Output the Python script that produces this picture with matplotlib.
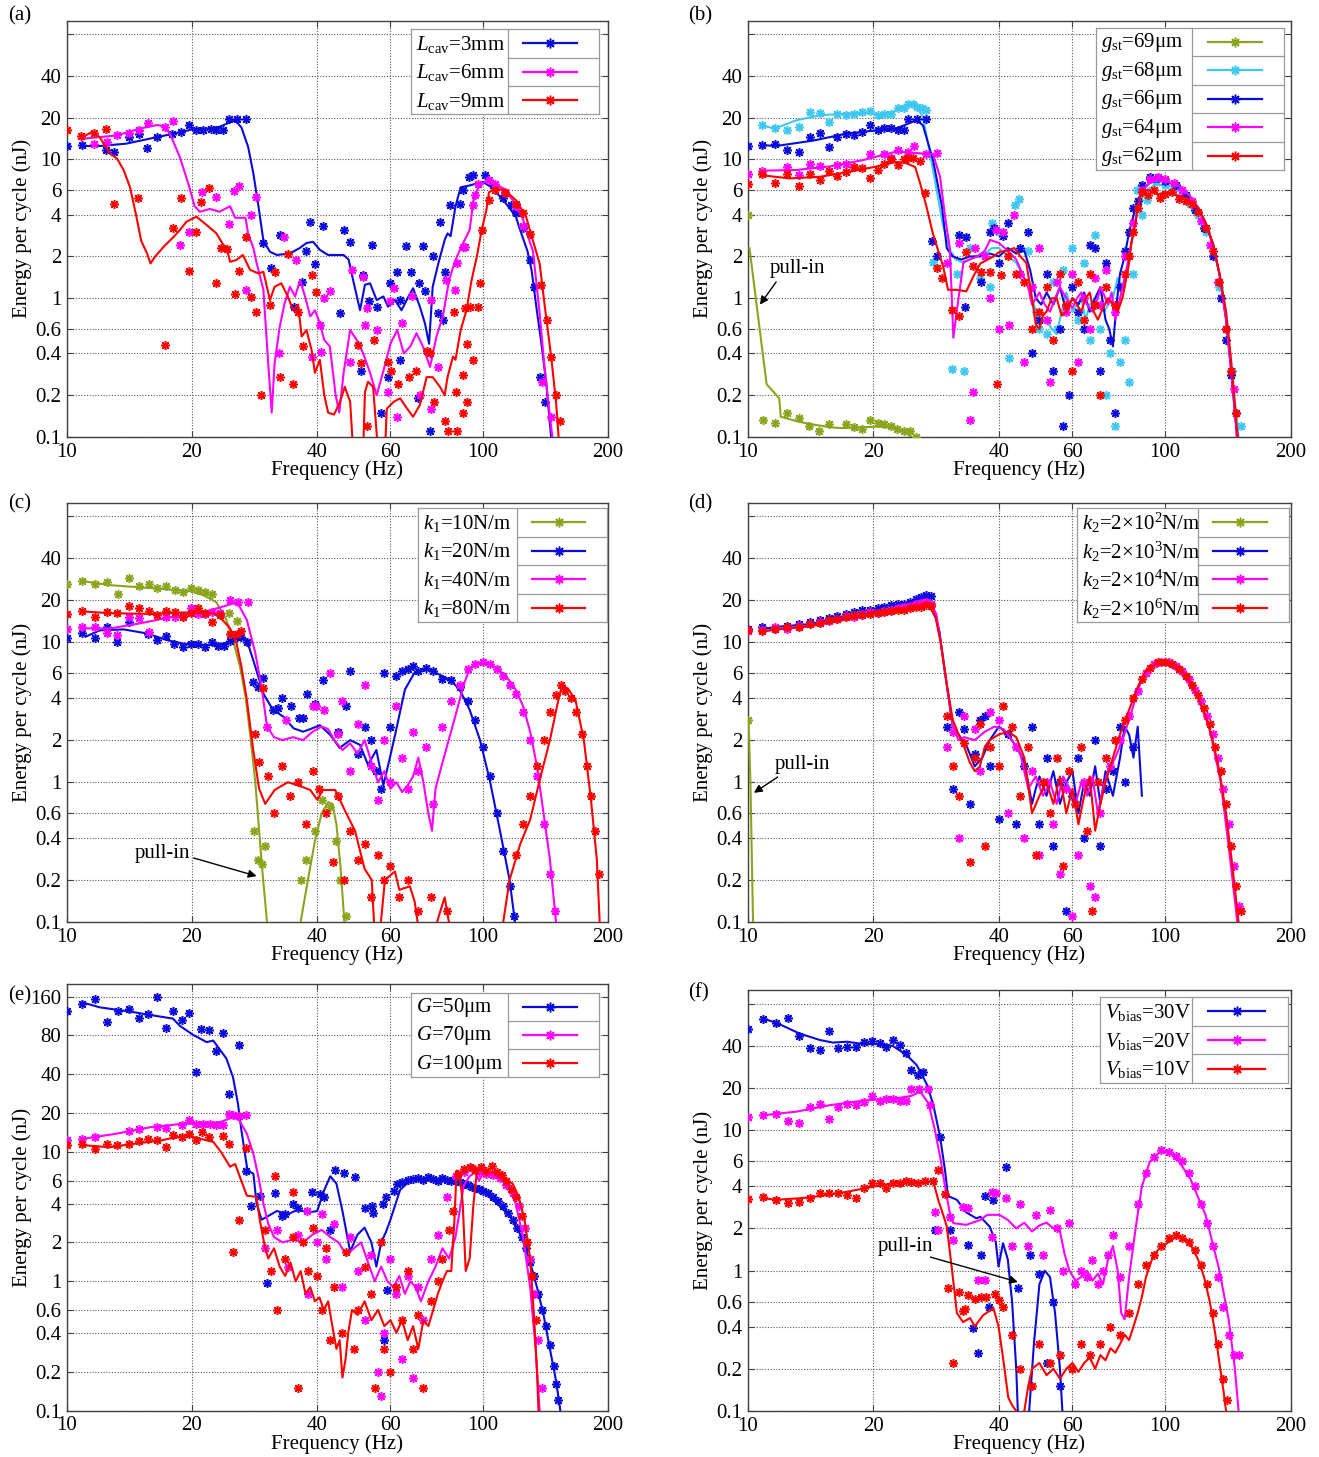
import matplotlib
matplotlib.use('Agg')
import matplotlib.pyplot as plt

plt.rcParams['font.family'] = ['Liberation Serif', 'DejaVu Serif']
plt.rcParams['mathtext.fontset'] = 'custom'
plt.rcParams['mathtext.rm'] = 'Liberation Serif'
plt.rcParams['mathtext.it'] = 'Liberation Serif:italic'
plt.rcParams['font.size'] = 15

BLUE = '#0a0adc'
PINK = '#ff00ff'
RED = '#ff0000'
CYAN = '#3cc8f0'
GREEN = '#8aa51c'

x_ticks = [10, 20, 40, 60, 100, 200]
y_ticks = [0.1, 0.2, 0.4, 0.6, 1, 2, 4, 6, 10, 20, 40, 80]
y_labels = ['0.1', '0.2', '0.4', '0.6', '1', '2', '4', '6', '10', '20', '40', '']
y_ticks_e = [0.1, 0.2, 0.4, 0.6, 1, 2, 4, 6, 10, 20, 40, 80, 160]
y_labels_e = ['0.1', '0.2', '0.4', '0.6', '1', '2', '4', '6', '10', '20', '40', '80', '160']

# ---------------- (a) cavity length ----------------
a_labels = [r'$L_{\mathrm{cav}}$=3mm', r'$L_{\mathrm{cav}}$=6mm', r'$L_{\mathrm{cav}}$=9mm']
a_blue_line = [(10.9,12.5),(12,12.5),(13.9,13),(16.5,14.5),(18,15.3),(20.1,16.5),(22.5,16.8),(23.3,17.2),(25.4,19.2),(26.3,17),(27.3,12.3),(28.1,7.9),(28.9,4.6),(29.7,2.6),(30.8,2.16),(32,2.05),(34.4,2.1),(36.3,2.3),(37.7,2.5),(39.1,2.55),(40.6,2.23),(42.5,2.05),(44,2.05),(46.3,2.05),(47.6,1.9),(48.8,1.35),(50.7,0.82),(52.1,1.25),(53.6,1.28),(55.6,0.97),(57.7,1.03),(59.2,0.87),(61.5,0.97),(63.8,0.82),(66.3,1.03),(68,1.18),(70.6,0.87),(72.6,0.66),(74.3,0.47),(75.8,1.21),(78.2,1.78),(81,2.63),(82.3,2.93),(83.7,2.8),(86,4.6),(88.5,6.3),(93,6.5),(100,6.9),(105,6.3),(112,5.1),(120,3.9),(123,3.1),(128,2.2),(131,1.6),(135,0.8),(138,0.5),(142,0.25),(146,0.1),(148,0.08)]
a_blue_stars = [(10,12.5),(10.9,12.7),(12.4,11.7),(13.0,11.3),(14.1,14.4),(14.9,15.3),(15.6,12.1),(16.5,14.5),(17.9,15.3),(18.8,15.7),(19.7,17.7),(20.5,16.3),(21.3,16.3),(22.2,16.7),(22.9,16.3),(23.7,16.3),(24.5,19.7),(25.6,19.7),(26.9,19.7),(29.7,2.5),(30.9,1.64),(32.5,2.85),(35.1,0.86),(36.7,1.3),(37.5,2.2),(38.5,3.56),(39.5,1.77),(41.3,3.3),(45.4,0.78),(46.3,3.1),(48,2.55),(51,0.3),(51.6,1.47),(53.4,0.95),(54.2,2.4),(55.6,0.87),(56.8,0.15),(59.2,0.27),(60,1.28),(62.3,1.55),(63.3,0.97),(63.3,0.36),(65.4,2.38),(67.2,1.55),(69.8,0.19),(70.3,1.28),(71.8,2.38),(72.6,1.12),(74.7,0.11),(75.8,2.0),(78.2,0.78),(78.9,3.56),(80.2,0.7),(81,1.55),(83.2,4.7),(88,4.8),(89.7,6.0),(92.8,7.5),(94.6,7.7),(101,7.7),(106,6.5),(112,5.25),(117,4.7),(120,4.1),(125,3.2),(130,1.9),(133,1.2),(137,0.27),(141,0.18)]
a_pink_line = [(10.9,14.1),(13.2,14.9),(15,16.7),(16.5,17.7),(17.1,17.4),(17.7,15.4),(18.7,10.4),(19.6,6.7),(20.3,4.6),(20.9,4.2),(22.1,4.4),(23.3,4.2),(24.7,4.6),(25.4,3.8),(26.9,3.8),(27.3,2.9),(28.1,2.3),(28.6,1.8),(29.7,1.15),(30.5,0.34),(31.1,0.15),(31.6,0.34),(32.5,0.62),(33.4,0.92),(34.4,1.21),(35.4,1.03),(36.4,1.35),(37.4,1.03),(38.5,0.74),(39.5,0.82),(40.6,0.66),(41.6,0.5),(42.9,0.45),(44.3,0.2),(45.2,0.15),(46.3,0.29),(48,0.59),(49.8,0.5),(51.6,0.4),(53.6,0.29),(55.6,0.2),(57.7,0.3),(60,0.47),(62.3,0.59),(64.6,0.4),(67,0.45),(69.3,0.56),(71.8,0.45),(74.7,0.32),(77.4,0.53),(80.2,0.74),(83,1.35),(86,1.89),(89.7,2.5),(93,3.1),(95,5.1),(97.6,6.3),(101,6.9),(105.5,6.8),(112,6.2),(118,5.1),(125,3.7),(130,2.5),(132,2.2),(137,0.78),(140.5,0.34),(145,0.14),(147,0.1),(149,0.08)]
a_pink_stars = [(11.6,13),(12.5,13.4),(13.2,14.9),(14.1,15.6),(14.9,16.3),(15.7,18.4),(17.2,17.2),(18,19),(18.7,2.4),(19.7,3),(21.2,5.8),(22.9,5.4),(24.5,3.4),(25.3,5.9),(26,6.4),(26.9,1.15),(27.7,4),(28.5,5.4),(32.3,0.4),(33.3,2.75),(35.6,1.9),(38.8,0.38),(40.6,0.64),(40.9,0.41),(41.6,1.0),(42.9,1.12),(48,0.35),(48.4,1.6),(51.6,1.43),(52.1,0.64),(52.6,0.85),(55.6,0.59),(59.2,0.21),(59.9,0.95),(61.2,1.18),(62.3,0.14),(63.8,0.66),(67.7,1.03),(70.6,0.2),(75.2,0.97),(75.2,0.16),(78.2,0.32),(81.5,1.35),(85.8,1.15),(86.8,1.8),(89.7,2.35),(90.6,2.35),(94.6,4.7),(96,5.5),(97.6,6.7),(103.5,7.1),(107,6.7),(113,5.8),(120,4.6),(125,3.3),(139,0.25),(146,0.14)]
a_red_line = [(11.1,14.9),(11.5,15.8),(12,14.5),(12.7,11),(13.2,10.2),(13.7,8.4),(14.2,6.3),(14.7,3.9),(15.1,2.6),(15.6,2.1),(15.9,1.78),(16.3,1.99),(17.1,2.35),(18.1,2.78),(18.7,3.1),(19.4,3.56),(20.5,3.87),(21.7,3.37),(22.9,2.93),(23.8,2.42),(24.2,2.35),(24.7,1.83),(25.6,1.89),(26.5,2.05),(27.6,1.6),(28.9,1.51),(29.7,1.55),(30.8,0.97),(31.6,1.21),(32.8,1.28),(34,1.03),(35,0.82),(36,0.9),(36.7,0.53),(37.7,0.59),(38.8,0.42),(39.5,0.29),(40.6,0.36),(41.6,0.2),(42.5,0.15),(43.9,0.145),(45.4,0.18),(46.6,0.23),(48,0.18),(48.8,0.08),(51.6,0.08),(52.1,0.21),(53,0.25),(54.5,0.23),(56,0.08),(58.2,0.08),(58.8,0.16),(61.2,0.18),(63.3,0.19),(65.8,0.16),(68,0.14),(70.6,0.17),(73.3,0.27),(75.8,0.27),(78.9,0.23),(81,0.2),(82.3,0.27),(84.8,0.38),(86,0.36),(88.5,0.59),(91.4,0.82),(94,1.35),(96.8,2.0),(99.4,3.1),(102,4.3),(103.5,5.8),(107,6.2),(113,6.0),(120,5.1),(127,3.9),(132,2.6),(137,1.78),(141,0.87),(146,0.38),(150,0.18),(153,0.08)]
a_red_stars = [(10,16.3),(10.8,14.7),(11.6,15.6),(12.4,16.7),(13,4.8),(14.8,5.25),(17.2,0.46),(18,3.2),(18.8,5.3),(19.7,1.58),(20.5,3),(21,4.95),(22,6.2),(22.9,1.28),(23.5,2.3),(24.3,2.27),(25.4,1.07),(26,1.57),(26.9,2.75),(27.7,1.02),(28.5,0.79),(29.3,0.2),(30.8,0.9),(31.6,1.55),(32.5,0.27),(34,2.08),(35,0.24),(36,0.8),(37,0.45),(38.8,1.46),(39.8,1.1),(50.2,0.46),(51,0.34),(52.6,0.12),(54.9,0.5),(59.2,0.35),(60.3,0.3),(62.4,0.24),(66.5,0.27),(69,0.3),(73.3,0.42),(74.7,0.4),(76.5,0.18),(81,0.13),(82.3,0.11),(85.2,0.8),(86,0.21),(86.8,0.11),(89.7,0.15),(89.7,0.28),(90.6,0.85),(91.4,0.47),(91.4,0.18),(93.3,0.87),(94.9,0.36),(97.6,0.87),(98.5,1.28),(99.4,3.1),(103.5,5.1),(107,6),(113,5.7),(120,4.8),(125,4.1),(130,2.9),(138,1.25),(143,0.7),(146,0.38),(150,0.2),(153,0.13)]

# ---------------- (b) stopper gap ----------------
b_labels = [r'$g_{\mathrm{st}}$=69μm', r'$g_{\mathrm{st}}$=68μm', r'$g_{\mathrm{st}}$=66μm', r'$g_{\mathrm{st}}$=64μm', r'$g_{\mathrm{st}}$=62μm']
b_green_line = [(10.1,2.29),(11.1,0.24),(11.9,0.19),(12.0,0.14),(13.1,0.13),(14.1,0.124),(16.0,0.117),(16.9,0.116),(20.7,0.119),(22.3,0.116),(23.6,0.11),(24.7,0.1),(25.5,0.09)]
b_green_stars = [(10,4.0),(10.9,0.133),(11.6,0.127),(12.4,0.15),(13.3,0.138),(14.0,0.121),(14.8,0.11),(15.7,0.125),(17.2,0.125),(18.0,0.119),(18.8,0.114),(19.6,0.133),(20.5,0.127),(21.2,0.124),(22,0.12),(22.8,0.115),(23.7,0.11),(24.5,0.11),(25.3,0.1)]
b_cyan_line = [(10.8,17.6),(11.6,16.7),(13.1,19.2),(14.9,20.8),(17.3,21.5),(19.6,21.6),(20.7,20.8),(22.3,22),(24,24.6),(25.4,24),(26.3,20.3),(27.8,8.4),(29.4,3.3),(30.4,2.29),(31.5,1.9),(33,1.8),(35,2.0),(37,2.1),(38.5,2.3),(40,2.3),(42,2.0),(44,1.8),(45.5,1.5),(47,1.2),(48.5,0.9),(50,0.65),(52,0.7),(53.5,0.6),(55,0.55),(56.5,0.8),(58,1.1),(60,0.8),(61.5,0.9),(63,1.0),(64.5,0.7),(66,0.9),(68,1.0),(70,1.2),(71.5,0.8),(73,0.9),(75,1.0),(77,1.4),(79,1.2),(81,1.6),(83,2.5),(86,4.5),(90,6.0),(95,6.6),(100,6.5),(105,6.3),(110,6.0),(115,5.3),(120,4.5),(125,3.5),(130,2.5),(135,1.5),(140,0.8),(144,0.35),(148,0.15),(150,0.1),(151,0.08)]
b_cyan_stars = [(10.8,17.6),(11.6,16.9),(12.4,16.3),(13.3,17.2),(14.1,21.9),(14.9,21.6),(15.7,18.6),(16.4,21.4),(17.2,20.8),(18,21.4),(18.8,21.9),(19.6,22.2),(20.5,20.8),(21.2,21.4),(22,21.2),(22.9,23.3),(23.7,23.3),(24.2,25.3),(24.9,25.3),(25.5,23.9),(26.1,23.3),(26.8,22.9),(27.8,1.83),(30.8,0.31),(31.7,1.5),(33,0.3),(34,2.3),(36,1.4),(38,1.2),(38.5,3.5),(40,3.0),(42.2,0.37),(43.7,4.7),(44.6,5.2),(47,2.2),(49,0.8),(50,0.6),(52,0.55),(54,1.3),(55,0.6),(57,1.6),(59.8,2.3),(62,0.7),(64,1.8),(66,0.5),(68,2.85),(70,0.6),(72,0.2),(74,0.4),(76,0.12),(78,0.35),(80,0.5),(82,0.25),(84,1.5),(85.6,6.0),(88,4.0),(90.5,5.1),(95,7.0),(100,6.5),(105,6.2),(110,5.5),(115,4.8),(120,4.0),(125,3.0),(130,2.0),(135,1.2),(140,0.6),(145,0.3),(152,0.12)]
b_blue_line = [(10.8,12.7),(11.7,12.5),(14.4,13.7),(17.3,15.4),(20.7,16.3),(22.7,16.7),(25.4,19.2),(26.3,17.6),(27.8,9.9),(29.2,4.6),(30,2.29),(31,2.0),(32.5,1.9),(34,2.0),(36,2.0),(38,2.1),(40,2.0),(42,2.3),(44,2.1),(46,2.2),(47.5,1.6),(49,1.0),(50.5,0.9),(52,1.1),(54,0.9),(56,1.2),(58,0.8),(60,1.0),(62,0.9),(64,1.1),(66,0.8),(68,1.0),(70,1.2),(72,0.7),(73.5,0.6),(75,0.45),(76.5,0.9),(78,1.5),(80,2.0),(82,3.0),(85,4.5),(88,6.0),(92,6.8),(96,7.0),(100,7.0),(105,6.6),(110,6.0),(115,5.2),(120,4.5),(125,3.5),(130,2.5),(135,1.5),(140,0.7),(144,0.3),(148,0.12),(149,0.09)]
b_blue_stars = [(10,12.5),(10.8,12.7),(11.6,12.9),(12.4,11.7),(13.3,11.3),(14.1,14.5),(14.9,15.6),(15.7,12.3),(16.4,14.5),(17.2,15.3),(18,15),(18.8,15.7),(19.6,17.6),(20.5,16.3),(21.2,16.8),(22,16.8),(22.9,16.3),(23.7,16.3),(24.2,19.7),(25.5,19.7),(26.8,19.7),(27.6,2.6),(28.4,2.0),(32,2.85),(33.2,0.87),(33.4,2.78),(36.3,1.32),(38,3.0),(39,3.2),(39.9,1.78),(41,2.8),(42,3.5),(45,2.3),(47,3.0),(48,0.4),(50,0.7),(52,1.5),(54,0.3),(56,0.6),(57,0.12),(59,0.2),(60,1.2),(62,0.8),(64,0.6),(66,2.4),(68,2.3),(70,0.3),(72,1.8),(74,0.5),(76,0.15),(78,1.2),(80,2.2),(82,3.0),(84,4.5),(86,5.0),(88,6.5),(92,7.5),(96,7.3),(100,7.0),(106,6.5),(112,5.5),(118,4.3),(124,3.2),(130,2.0),(136,1.0),(140,0.5),(144,0.28),(148,0.15)]
b_pink_line = [(10.8,8.3),(13.1,8.4),(15.7,8.9),(18.9,9.9),(22.7,11.4),(24.5,11.2),(27.8,10.9),(28.9,7.5),(29.7,3.9),(30.5,2.3),(31.1,0.52),(32,1.0),(32.9,1.83),(34,1.9),(35.5,2.0),(37,2.2),(38.1,2.63),(40,2.5),(42,2.2),(44,1.9),(45.5,1.5),(47,1.2),(48,0.9),(50,1.1),(51.5,0.9),(53,0.8),(54.5,1.0),(56,1.2),(58,1.0),(60,0.85),(61.5,1.0),(63,1.1),(65,0.9),(67,0.8),(69,1.0),(70,1.2),(72,1.0),(73,0.9),(74.5,1.1),(76,0.7),(78,1.0),(80,1.4),(82,2.0),(84,3.0),(86,4.5),(88,6.0),(93,7.0),(100,7.0),(105,6.7),(110,6.2),(115,5.4),(120,4.5),(125,3.5),(130,2.5),(135,1.5),(140,0.7),(144,0.3),(148,0.12),(149,0.09)]
b_pink_stars = [(10,7.8),(10.8,8.3),(12.4,8.85),(13.3,7.7),(14.1,9.2),(14.9,9.0),(16.4,9.1),(17.2,9.2),(18,8.85),(19.6,10.9),(21.2,10.9),(22,10.2),(22.9,11.7),(24.2,11.3),(25,12.5),(26.8,11.0),(28.4,11.2),(30,1.8),(32,2.5),(34.1,0.133),(34.7,0.21),(35,2.3),(37,2.0),(38,1.0),(39.3,3.1),(40,0.6),(41,3.0),(42.2,0.64),(43.5,4.0),(45,1.5),(46,0.35),(48,1.2),(50,2.3),(52,0.7),(53,0.25),(55,1.3),(58,0.8),(60,1.5),(62,0.35),(64,1.0),(66,0.6),(68,1.4),(70,0.9),(72,1.6),(76,0.8),(80,2.0),(84,3.5),(88,6.0),(92,7.2),(96,7.5),(100,7.2),(105,6.8),(110,6.0),(116,5.0),(122,3.6),(128,2.4),(134,1.3),(140,0.6),(146,0.22)]
b_red_line = [(10.8,7.7),(12.6,7.3),(14.9,7.5),(17.3,8.1),(20,8.8),(22.7,9.6),(24,9.4),(25.2,8.8),(25.9,6.7),(26.8,4.6),(27.8,2.9),(29.4,1.69),(30.2,1.15),(31.7,1.15),(33.4,1.12),(34.7,1.43),(36.1,1.78),(38.8,2.0),(40.1,2.16),(42,2.2),(43.5,2.3),(45,2.0),(46.5,1.8),(48,1.0),(49,0.65),(50,0.6),(51,0.75),(52,0.8),(53.5,1.0),(55,1.0),(56.5,0.75),(58,0.8),(60,1.0),(61.5,0.9),(63,0.8),(64.5,1.0),(66,1.1),(67.5,0.8),(69,0.7),(71,0.85),(73,1.0),(75,0.9),(77,0.8),(79,1.0),(80,1.2),(82,1.8),(83,2.5),(85,3.5),(86,4.5),(88,6.0),(90,6.0),(92,6.0),(96,5.6),(100,5.8),(105,5.6),(110,5.4),(115,5.0),(120,4.5),(125,3.5),(130,2.5),(135,1.5),(140,0.8),(144,0.35),(148,0.13),(150,0.09)]
b_red_stars = [(10,6.7),(10.8,7.8),(11.6,6.8),(12.4,7.8),(13.3,6.4),(14.1,7.8),(14.9,7.1),(15.7,8.3),(16.4,7.6),(17.2,8.1),(18,8.85),(18.8,8.7),(19.6,7.3),(20.5,8.4),(21.2,9.2),(22,10),(22.9,9.1),(23.7,10),(24.2,10.2),(24.9,10.2),(25.9,9.8),(26.6,5.75),(28.4,1.64),(29.2,1.4),(30.8,0.82),(32,0.75),(33.4,2.16),(34.7,1.7),(36.2,1.55),(38,1.55),(39.6,0.24),(40.5,1.47),(42,2.0),(44,1.5),(46,1.3),(48,0.6),(50,0.8),(52,1.2),(54,0.5),(56,1.5),(58,0.9),(60,0.3),(62,1.3),(64,0.7),(66,1.5),(68,0.9),(70,0.2),(72,1.2),(76,0.9),(80,1.5),(82,2.0),(84,3.0),(86,4.5),(88,5.8),(91,5.5),(94,6.0),(97,5.3),(100,5.6),(104,5.8),(108,5.2),(112,5.0),(116,4.8),(120,4.2),(125,3.2),(130,2.2),(135,1.3),(140,0.6),(144,0.3),(148,0.15)]

# ---------------- (c) spring k1 ----------------
c_labels = [r'$k_1$=10N/m', r'$k_1$=20N/m', r'$k_1$=40N/m', r'$k_1$=80N/m']
c_green_line = [(10.9,27.5),(12.7,25.7),(15,24.8),(17.4,24),(19.8,23.3),(21.3,21.8),(22.9,19.4),(24.2,14.5),(25.1,10.4),(26.1,6.7),(26.9,4.1),(27.6,2.2),(28.4,1.0),(29.5,0.24),(30.3,0.1),(31.5,0.05),(35,0.05),(36.5,0.1),(38,0.2),(39.5,0.38),(41,0.6),(42.5,0.72),(43.5,0.7),(44.5,0.5),(45.5,0.25),(46.5,0.1),(47.5,0.05)]
c_green_stars = [(10,26),(10.9,27.6),(11.7,26),(12.5,27.2),(13.3,22.4),(14.1,29),(14.9,25.3),(15.8,26),(16.5,24.4),(17.3,25.3),(18.2,23.9),(19,23),(19.9,24.6),(20.7,23.7),(21.5,23),(22.3,22.4),(24.5,16.3),(25.6,14.3),(27.1,10.1),(28.2,0.45),(28.8,0.28),(29.4,0.26),(30,0.35),(36.5,0.2),(37.5,0.28),(39.5,0.45),(41,0.75),(43,0.67),(44.5,0.38),(45.5,0.2),(47,0.11)]
c_blue_line = [(11.1,11),(12,12.2),(13.7,12.4),(15.6,11.6),(17.4,10.4),(19.1,9.8),(20.9,9.6),(22.9,9.6),(24.7,10.1),(26.1,11),(27.1,10.4),(28.4,6.7),(29.7,4.3),(31.3,3.3),(33.2,2.94),(35.1,2.43),(37,2.3),(38.5,2.4),(40.6,2.56),(43,2.18),(45.3,1.76),(48,2.0),(50.7,1.85),(53,1.33),(55.5,1.7),(57.7,0.95),(60,1.56),(61.6,2.2),(63,3.0),(65,4.6),(68.6,6.1),(72.6,6.5),(76.7,6.1),(83.5,5.4),(88,4.6),(93,3.3),(98.5,2.0),(104,1.03),(110,0.45),(116,0.2),(119.5,0.1),(121,0.08)]
c_blue_stars = [(10,10.7),(10.9,11.7),(11.7,10.7),(12.5,12.9),(13.2,10.1),(14.1,14.1),(15.7,11.5),(16.5,10.5),(17.3,11.1),(18.1,9.8),(19,9.3),(19.9,9.7),(20.7,9.7),(21.5,9.3),(22.3,10),(23.1,9.5),(23.9,9.5),(24.7,10.2),(25.6,11),(26.3,11),(27.1,10),(28.1,5.2),(28.9,4.8),(29.7,5.6),(31.3,3.3),(32.2,3.4),(33,4.0),(34.6,3.5),(36.1,2.86),(37,2.86),(37.8,4.25),(39.5,3.6),(41.3,5.4),(45,2.3),(47,3.5),(48,6.3),(50,1.6),(52,2.5),(54,2.0),(55.5,1.2),(57,0.9),(58,6.0),(60,2.5),(62,5.8),(64,6.2),(66,6.5),(68,6.8),(70,6.3),(73,6.6),(76,6.2),(80,5.5),(84,5.4),(88,4.8),(92,3.8),(96,2.8),(100,1.8),(104,1.1),(108,0.6),(112,0.32),(116,0.18),(119,0.11)]
c_pink_line = [(10.9,12.6),(12.7,12.6),(15,13.7),(18,15.3),(21.6,16.6),(25.1,19),(25.8,18.9),(27.1,14.5),(28.4,8.4),(29.4,4.8),(30.3,2.5),(31.5,2.1),(33,2.0),(35,2.1),(37,2.0),(39,2.3),(41,2.5),(42.5,2.4),(44,2.0),(46,1.7),(48,1.9),(50,1.6),(52,2.0),(54,1.4),(56,1.0),(58,1.2),(60,0.9),(62,1.0),(64,0.85),(66,0.95),(68,1.1),(70,1.5),(72,1.0),(74,0.6),(75.5,0.45),(77,0.9),(79,1.2),(82,1.8),(86,3.0),(90,5.0),(93,6.5),(96,7.0),(100,7.2),(108,6.6),(115,5.5),(120,4.6),(125,3.5),(130,2.3),(135,1.3),(140,0.6),(145,0.28),(150,0.1),(152,0.07)]
c_pink_stars = [(10,12.4),(10.9,12.8),(11.7,13),(12.5,11.6),(13.2,11.3),(14.1,15.3),(14.9,15),(15.8,11.9),(17.3,15.3),(18.2,15.1),(19,15.5),(19.9,17.7),(20.7,15.9),(21.5,15.9),(22.3,16.4),(23.3,16.2),(24.7,20),(25.8,19.5),(27.3,19.5),(30.3,2.5),(33.7,2.8),(39,3.5),(39.8,3.5),(41.6,3.3),(43,6.0),(45,2.2),(46,3.8),(48,1.2),(50,2.6),(52,5.0),(54,1.3),(56,0.75),(58,2.0),(60,1.0),(62,3.5),(64,1.5),(66,0.9),(68,2.3),(70,1.2),(73,1.8),(76,0.7),(80,2.5),(84,3.8),(88,5.0),(92,6.5),(96,7.0),(100,7.2),(104,7.0),(108,6.5),(112,5.8),(116,5.0),(120,4.3),(125,3.2),(130,2.0),(135,1.1),(140,0.5),(145,0.22),(149,0.12)]
c_red_line = [(10.9,16.7),(12.7,16.2),(15.9,16),(19.1,16.4),(22.5,16.2),(23.3,15.3),(24.7,12.6),(25.6,9.8),(26.3,6.7),(27.1,3.9),(28,1.8),(29,0.9),(30,0.7),(31.6,0.88),(34,1.0),(36,0.95),(38.5,0.88),(40,0.75),(41.3,0.88),(44.2,0.88),(46.6,0.63),(49.3,0.45),(52,0.24),(54.1,0.2),(55,0.08),(56.5,0.08),(58.2,0.2),(61.5,0.23),(63,0.17),(66.8,0.18),(68.6,0.14),(70.5,0.08),(75,0.07),(79.1,0.12),(81,0.15),(84,0.08),(90,0.05),(108,0.05),(112,0.1),(116,0.2),(123,0.36),(130,0.54),(137,1.03),(145,2),(152,3.9),(155,4.9),(160,4.7),(167,3.9),(175,2),(182,0.75),(188,0.28),(191,0.1),(193,0.07)]
c_red_stars = [(10,15.9),(10.9,16.8),(11.7,15.3),(12.5,16.6),(13.2,16.3),(14.1,18.2),(14.9,17.5),(15.8,16.7),(16.5,15.7),(17.3,16.8),(18.2,16.4),(19,15.3),(19.9,16.3),(20.7,17.5),(21.5,16.3),(22.3,14.1),(23.3,15.7),(24.7,11.5),(25.6,11.5),(26.3,12.1),(29.7,4.7),(28.4,2.2),(29,1.4),(30.5,1.1),(31.5,0.6),(33,1.3),(34.5,0.8),(36,1.0),(37.5,0.5),(39,1.2),(40.5,0.9),(42,0.6),(43.7,0.27),(45,0.8),(46.5,0.2),(48,0.45),(50,0.28),(52,0.36),(54,0.15),(56,0.3),(58,0.2),(60,0.25),(63,0.15),(66,0.2),(70,0.12),(75,0.15),(82,0.12),(120,0.3),(125,0.5),(130,0.8),(135,1.3),(140,2.0),(145,3.2),(150,4.2),(154,5.0),(158,4.5),(163,4.0),(168,3.2),(173,2.2),(178,1.3),(182,0.8),(186,0.45),(190,0.22)]

# ---------------- (d) spring k2 ----------------
d_labels = [r'$k_2$=2×10$^2$N/m', r'$k_2$=2×10$^3$N/m', r'$k_2$=2×10$^4$N/m', r'$k_2$=2×10$^6$N/m']
d_green_line = [(10.05,2.8),(10.15,1.0),(10.3,0.1),(10.4,0.05)]
d_green_stars = [(10.02,2.8)]
d_blue_line = [(10.8,12.5),(12,13),(14,13.5),(16,14.5),(18,15.5),(20,16.5),(22,17.5),(24,18.5),(26,20.5),(27,21),(27.8,18),(28.8,12),(29.5,7),(30.3,4),(31,2.5),(32,2.2),(33.5,1.8),(35,1.3),(36.5,1.5),(38,2.0),(40,2.5),(42,2.2),(44,1.8),(46,1.4),(48,0.7),(49,0.9),(50,1.1),(52,0.8),(54,1.2),(56,0.7),(58,1.0),(60,1.2),(62,0.6),(64,1.0),(66,0.8),(68,1.3),(70,0.7),(72,1.2),(75,0.8),(78,1.5),(80,2.5),(82,2.2),(84,1.5),(86,2.5),(88,0.8)]
d_blue_stars = [(10,12.5),(10.8,12.8),(11.6,12.5),(12.4,13.2),(13.3,13.5),(14.1,14),(14.9,14.5),(15.7,15),(16.4,15.5),(17.2,16),(18,16.5),(18.8,17),(19.6,17.2),(20.5,17.5),(21.2,17.8),(22,18.5),(22.9,18.8),(23.7,19),(24.5,19.5),(25.3,20.5),(26,21),(26.8,22),(27.5,21.5),(30,2.5),(31,0.9),(32,3.2),(33,2.4),(34,0.7),(35,1.6),(36,2.8),(37,3.0),(38,1.3),(40,0.55),(42,2.2),(44,0.5),(46,1.3),(48,2.5),(50,0.5),(52,1.5),(54,0.35),(56,1.0),(58,0.12),(60,0.8),(62,1.5),(64,0.4),(66,1.0),(68,2.0),(70,0.35),(72,0.9),(75,1.2),(78,2.5),(80,1.0),(84,1.8)]
d_pink_line = [(10.8,12),(12,12.5),(14,13.2),(16,14),(18,15),(20,16),(22,17),(24,18),(26,19),(27.3,19.5),(28.3,16),(29,10),(30,5),(31,2.5),(32,2.0),(33,2.1),(35,2.0),(37,2.3),(39,2.5),(41,2.4),(43,2.0),(45,1.6),(47,0.9),(49,1.1),(51,0.8),(53,1.0),(55,0.7),(57,1.1),(59,0.9),(61,0.7),(63,1.0),(65,0.8),(67,1.1),(69,0.6),(71,0.9),(73,1.2),(76,1.5),(79,2.0),(82,2.8),(85,4.0),(88,5.5),(92,6.8),(96,7.2),(100,7.0),(106,6.5),(112,5.5),(120,4.0),(128,2.4),(136,1.0),(142,0.35),(148,0.12),(150,0.08)]
d_pink_stars = [(10,12),(10.8,12.3),(11.6,12.8),(12.4,12.5),(13.3,13.2),(14.1,13.5),(14.9,14),(15.7,14.2),(16.4,14.8),(17.2,15.5),(18,15.2),(18.8,16),(19.6,16.5),(20.5,16.2),(21.2,16.8),(22,17.2),(22.9,17.5),(23.7,17.8),(24.5,18.3),(25.3,18.8),(26,19.2),(26.8,19.5),(27.5,19),(30,1.8),(31,2.3),(32,0.4),(33,3.0),(35,2.4),(36,1.2),(38,3.2),(40,2.8),(42,0.6),(44,1.8),(46,0.4),(48,1.2),(50,0.3),(52,1.0),(54,0.5),(56,0.22),(58,0.9),(60,0.11),(62,0.3),(64,1.0),(66,0.18),(68,0.15),(70,0.6),(74,1.3),(78,2.0),(82,3.0),(86,4.5),(90,6.0),(94,7.0),(98,7.3),(102,7.2),(106,6.8),(110,6.2),(114,5.5),(118,4.6),(122,3.8),(126,3.0),(130,2.2),(134,1.5),(138,0.9),(142,0.5),(146,0.25),(150,0.13)]
d_red_line = [(10.8,12),(12,12.5),(14,13),(16,14),(18,15),(20,16),(22,17),(24,17.5),(26,18),(27.3,18),(28.2,15),(29,10),(30,5),(31,2.8),(32,2.2),(33,1.8),(34,1.4),(35,1.2),(36,1.3),(37,1.8),(38,2.0),(40,2.2),(42,2.3),(44,2.1),(46,1.5),(48,0.6),(50,0.8),(52,1.0),(54,0.7),(56,1.1),(58,0.6),(60,0.9),(62,0.5),(64,0.8),(66,1.1),(68,0.45),(70,0.7),(72,1.0),(75,1.5),(78,2.2),(82,3.3),(86,4.8),(90,6.3),(95,7.0),(100,7.2),(105,6.8),(110,6.2),(115,5.2),(120,4.0),(125,3.0),(130,2.0),(135,1.2),(140,0.6),(145,0.25),(150,0.1),(152,0.07)]
d_red_stars = [(10,12.3),(10.8,12),(11.6,12.4),(12.4,12.8),(13.3,12.9),(14.1,13.6),(14.9,13.8),(15.7,14.5),(16.4,14.6),(17.2,15.2),(18,15.6),(18.8,15.8),(19.6,16),(20.5,16.3),(21.2,16.4),(22,16.8),(22.9,17),(23.7,17.2),(24.5,17.5),(25.3,17.8),(26,18),(26.8,18.5),(27.5,18.2),(30,3.0),(31,1.3),(32,0.8),(33,1.9),(34,0.27),(35,1.5),(36,2.6),(37,0.35),(38,1.8),(40,1.3),(41,3.5),(43,2.5),(45,0.8),(47,1.8),(49,0.3),(51,1.0),(53,0.6),(55,1.5),(57,0.25),(59,1.2),(61,0.7),(63,1.8),(65,0.45),(67,0.12),(69,1.0),(72,1.5),(76,2.0),(80,2.8),(84,4.0),(88,5.5),(92,6.6),(96,7.2),(100,7.3),(104,7.0),(108,6.5),(112,5.8),(116,5.0),(120,4.2),(124,3.4),(128,2.6),(132,1.8),(136,1.2),(140,0.7),(144,0.35),(148,0.18),(152,0.12)]

# ---------------- (e) gap G ----------------
e_labels = [r'$G$=50μm', r'$G$=70μm', r'$G$=100μm']
e_blue_line = [(11,143),(12,132),(14.5,121),(15.9,115),(18,108),(18.7,95),(20.1,81),(21.7,71),(22.5,73),(24.2,53),(25.1,38),(25.8,23.7),(26.3,14.7),(26.9,9.1),(27.2,7.2),(28.1,6.8),(28.6,4.0),(29.4,3.0),(30.5,3.2),(32,3.5),(34,3.3),(36,3.6),(38,3.4),(40,3.5),(41.5,5.0),(43,6.5),(44.5,5.7),(46,3.5),(48,1.7),(50,2.3),(52,2.6),(54,2.0),(55.5,1.3),(57,2.0),(58.5,2.4),(60,3.0),(63.3,5.1),(66.8,6.0),(70,6.1),(74.7,6.2),(80,6.1),(86,6.0),(93,5.5),(100,5.2),(104,4.5),(112,3.6),(118,3.0),(124,2.2),(130,1.4),(135,0.9),(140,0.55),(145,0.3),(150,0.17),(153,0.11),(155,0.08)]
e_blue_stars = [(10,123),(10.9,139),(11.7,152),(12.5,101),(13.3,124),(14.1,127),(14.9,109),(15.7,118),(16.5,158),(17.3,92),(18,124),(18.9,105),(19.7,119),(20.5,42),(21,89),(22,88),(22.9,61),(23.8,83),(24.5,28),(26,68),(27,7.2),(27.8,3.8),(29.1,4.6),(30.3,0.97),(31.6,4.8),(33,3.2),(33.4,3.3),(35,4.0),(36,3.7),(38.8,4.9),(40.6,4.7),(41.6,4.5),(43,2.5),(44.1,7.3),(46.3,6.9),(49.2,6.4),(52,3.7),(54.2,3.8),(54.4,3.4),(57.7,4.0),(58,0.35),(58.6,4.5),(59,0.85),(61.2,5.0),(62.3,5.7),(63.8,5.9),(66,6.1),(68,6.2),(70,6.3),(72,6.1),(74,6.4),(76,6.2),(78,6.0),(80,6.3),(82,6.1),(84,6.0),(86,6.2),(88,5.9),(90,5.7),(92,5.6),(94,5.4),(96,5.3),(98,5.2),(100,5.0),(103,4.8),(106,4.5),(109,4.2),(112,3.8),(115,3.4),(118,3.0),(121,2.6),(124,2.2),(127,1.8),(130,1.4),(133,1.1),(136,0.8),(139,0.6),(142,0.45),(145,0.32),(148,0.22),(150,0.16),(152,0.12)]
e_pink_line = [(11,12.7),(13.2,13.9),(15.9,15.6),(19.1,16.6),(21.7,16.6),(23.4,17.1),(25.1,18.6),(26,17.6),(27.1,13.9),(28.1,9.7),(28.9,6.4),(29.7,4.0),(30.5,2.8),(31.5,2.2),(33,2.0),(35,2.1),(37,2.0),(39,2.3),(41,2.5),(43,2.2),(45,2.0),(47,1.6),(49,1.8),(51,2.0),(53,1.4),(55,1.0),(57,1.3),(59,1.0),(61,0.9),(63,1.1),(65,0.8),(67,1.0),(69,0.9),(71,0.7),(74,1.0),(77,1.3),(80,1.8),(83,1.5),(86,2.2),(88,3.5),(90,5.5),(93,6.5),(96,7.0),(98,6.0),(100,6.8),(104,6.8),(108,6.5),(112,6.0),(116,5.2),(120,4.0),(125,2.2),(130,0.9),(134,0.3),(137,0.1),(138,0.07)]
e_pink_stars = [(10,12.5),(10.9,12.7),(11.7,13.2),(14.1,14.5),(14.9,15.2),(16.5,15.6),(17.3,15.4),(18.9,16.1),(19.7,17.6),(20.5,16.4),(21.3,16.4),(22.1,16.4),(22.9,16.1),(23.7,16.3),(24.5,19.6),(25.1,19.2),(26,19),(27,19.2),(30,1.8),(32,2.5),(34,1.3),(36,2.3),(37.9,3.5),(38,0.8),(40,2.0),(41,3.3),(42,1.5),(44,2.8),(46,0.9),(48,2.2),(50,1.2),(52,0.5),(54,1.6),(56,0.2),(57,0.13),(58,0.4),(60,1.5),(62,0.8),(64,0.25),(66,1.1),(68,0.18),(70,0.9),(72,0.5),(75,1.5),(78,2.3),(82,4.5),(86,6.5),(90,7.0),(94,7.5),(98,7.0),(102,6.8),(106,6.6),(110,6.3),(114,5.6),(118,4.8),(122,3.8),(126,2.6),(130,1.5),(133,0.8),(136,0.35),(139,0.15)]
e_red_line = [(11,11.3),(12.7,10.9),(14.5,11.6),(16.8,12.3),(19.4,13.5),(20.9,12.7),(22.5,12.0),(23.5,10.0),(24.7,7.7),(25.4,8.1),(26,6.6),(27.1,4.6),(28.6,4.5),(29.1,3.0),(29.8,2.0),(30.5,1.5),(31.5,1.8),(32.5,1.3),(33.5,1.1),(34.5,1.4),(35.5,1.0),(36.5,1.2),(37.5,0.8),(38.5,0.9),(39.5,0.7),(40.5,0.75),(41.5,0.6),(42.5,0.7),(43.5,0.45),(44.5,0.3),(45.3,0.35),(46,0.18),(46.8,0.25),(47.5,0.4),(48.5,0.6),(50,0.55),(52,0.7),(54,0.5),(56,0.6),(58,0.45),(60,0.5),(62,0.4),(64,0.5),(66,0.35),(68,0.45),(70,0.3),(72,0.5),(74,0.45),(76,0.6),(78,0.8),(80,1.0),(82,1.2),(84,1.2),(85.5,3.0),(86.5,7.2),(88,6.8),(89.5,4.0),(91,1.2),(93,1.5),(95,4.0),(97,7.5),(100,7.3),(105,7.0),(110,6.8),(115,6.0),(118,5.7),(122,4.5),(126,3.0),(130,1.5),(133,0.5),(135,0.2),(136.5,0.08)]
e_red_stars = [(10,11.3),(10.9,11.5),(11.7,10.6),(12.5,11.5),(13.2,11.4),(14.1,11.5),(14.9,12.2),(15.7,12.7),(16.5,12.5),(17.3,10.9),(18,13.6),(18.9,13.1),(19.7,13.9),(20.5,12.5),(21.2,14.3),(22,13.1),(23.7,13.3),(24.5,11.5),(27,10.8),(26,3.0),(25.1,1.7),(31.7,6.5),(35,4.9),(30,2.5),(31,1.2),(32,0.6),(33.5,1.5),(35,2.2),(36,0.15),(37,2.0),(38,1.2),(39,2.6),(40,1.1),(41,0.6),(42,1.8),(43,0.35),(44,0.9),(46,0.4),(47,1.7),(49,0.3),(50,0.6),(52,1.3),(54,0.8),(55,0.15),(57,2.0),(58,0.3),(60,0.2),(62,0.9),(64,0.5),(66,1.2),(68,0.3),(70,0.55),(72,0.15),(75,0.7),(78,1.0),(80,1.5),(83,2.5),(85,3.5),(87,6.8),(90,7.4),(93,7.6),(96,7.3),(99,7.6),(102,7.2),(105,7.8),(108,7.0),(111,6.6),(114,6.0),(117,5.2),(120,4.5),(124,3.2),(128,2.0),(131,1.1),(134,0.5)]

# ---------------- (f) bias voltage ----------------
f_labels = [r'$V_{\mathrm{bias}}$=30V', r'$V_{\mathrm{bias}}$=20V', r'$V_{\mathrm{bias}}$=10V']
f_blue_line = [(10.9,62.4),(11.7,58.5),(13.3,49),(14.9,44),(16,42.2),(17.3,42.8),(18.9,41.2),(20.8,41.2),(22.3,39.8),(24,34.5),(25.4,29.2),(26.8,21.6),(27.8,15.5),(28.9,9.0),(29.7,5.2),(30.2,3.4),(31.7,3.2),(33.4,2.6),(35.3,2.36),(36.1,2.42),(38,2.06),(39.3,1.6),(39.9,1.07),(40.9,1.57),(42,1.2),(43,0.6),(44,0.2),(44.5,0.08),(46,0.05),(47,0.08),(48.5,0.3),(50,0.8),(51.5,1.0),(53,0.9),(54.5,0.5),(56,0.2),(57,0.08)]
f_blue_stars = [(10,52.7),(10.9,62.4),(11.7,58.5),(12.5,62.8),(13.3,47),(14.1,38.3),(14.9,37.2),(15.7,51),(16.5,38.7),(17.3,39.4),(18.2,39),(19,42.9),(19.8,43.3),(20.7,41.8),(21.5,39),(22.3,44.2),(23.2,40.5),(23.9,35.4),(24.6,26.9),(25.6,24.6),(26.3,26.1),(28.9,8.9),(28.1,1.95),(30.5,1.95),(33.7,1.52),(34.7,0.39),(35.6,0.26),(36.3,1.29),(37,3.4),(37.8,0.55),(38.8,3.2),(41.6,5.5),(44.5,0.75),(47.5,1.3),(50,0.95),(52,0.22),(54,0.6),(56,0.15)]
f_pink_line = [(10.9,12.8),(13.1,13.6),(15.7,15.1),(18.9,16.3),(22.6,16.9),(24.7,17.6),(25.9,18.9),(27.1,15.6),(28.1,10),(28.9,6.5),(29.7,4),(30.5,2.56),(31.1,2.18),(33.4,2.12),(36.1,2.3),(37.5,2.5),(40.1,2.5),(42,2.3),(44,2.0),(46,2.2),(48,1.9),(50,2.1),(52,2.2),(54,2.0),(56,1.9),(57.5,1.3),(59,1.0),(61,0.85),(63,0.9),(65,1.0),(67,0.85),(69,0.95),(71,0.8),(73,1.2),(75,1.5),(77,1.0),(78.5,0.5),(80,0.45),(82,0.9),(85,2.0),(88,4.0),(92,6.0),(97,7.0),(102,7.0),(108,6.0),(115,4.5),(125,2.5),(135,1.0),(142,0.45),(147,0.2),(150,0.1),(151,0.07)]
f_pink_stars = [(10,12.5),(10.9,12.8),(11.7,13.1),(12.5,11.7),(13.3,11.3),(14.1,14.6),(14.9,15.4),(15.7,12.0),(16.5,14.7),(17.3,15.3),(18.2,15.1),(19,16),(19.8,17.7),(20.7,16.2),(21.5,16.7),(22.3,16.7),(23.2,16.2),(23.9,16.2),(24.6,19.8),(25.7,19.8),(27.1,19.8),(27.4,15.2),(28.1,2.6),(28.6,1.95),(30.5,2.4),(31.1,1.65),(32.8,2.85),(33.7,2.8),(35.6,0.86),(37,0.86),(38.4,3.65),(38.4,1.75),(39.4,3.55),(41.6,3.3),(43,1.5),(45,3.0),(47,1.5),(49,2.5),(51,1.3),(53,2.7),(55,2.0),(57,1.0),(59,2.2),(61,0.8),(63,1.0),(65,0.9),(67,1.2),(69,0.8),(71,1.0),(73,1.3),(75,1.8),(78,0.9),(82,1.5),(86,3.0),(90,5.0),(94,6.5),(98,7.2),(102,7.0),(106,6.6),(110,6.0),(114,5.0),(118,4.0),(122,3.0),(126,2.2),(130,1.5),(134,0.9),(138,0.55),(142,0.35),(146,0.25),(150,0.25)]
f_red_line = [(10.9,3.28),(11.7,3.2),(13.3,3.28),(14.9,3.4),(17.3,3.65),(20,3.97),(22.7,4.24),(24.9,4.3),(26.8,4.24),(27.8,4.4),(28.6,3.2),(29.4,2.5),(30,2.06),(30.8,1.07),(31.4,0.65),(31.7,0.5),(32.8,0.43),(34.1,0.46),(35,0.4),(36.6,0.48),(38.8,0.54),(39.9,0.4),(40.9,0.24),(42.1,0.125),(43,0.11),(44,0.1),(45,0.08),(46,0.1),(47,0.15),(48,0.2),(50,0.22),(52,0.18),(54,0.2),(56,0.17),(58,0.2),(60,0.22),(62,0.19),(64,0.22),(66,0.24),(68,0.2),(70,0.25),(72,0.23),(74,0.28),(76,0.26),(78,0.3),(80,0.35),(82,0.32),(84,0.4),(86,0.5),(88,0.65),(90,0.9),(93,1.2),(96,1.4),(99,1.5),(102,1.6),(105,1.7),(108,1.75),(111,1.7),(114,1.6),(117,1.4),(120,1.2),(124,0.9),(128,0.6),(132,0.35),(135,0.22),(138,0.14),(140,0.1),(142,0.08)]
f_red_stars = [(10,3.24),(10.9,3.33),(11.7,3.18),(12.5,3.02),(13.3,3.07),(14.1,3.31),(14.9,3.56),(15.7,3.56),(16.5,3.6),(17.3,3.46),(18.2,3.31),(19,3.86),(19.8,4.19),(20.7,4.19),(21.5,3.9),(22.3,4.19),(23.2,4.19),(23.9,4.38),(24.6,4.3),(25.6,4.19),(26.6,4.38),(27.8,4.38),(28.6,5.2),(29.7,3.5),(30.2,0.75),(31.1,0.22),(32,0.7),(32.8,0.52),(33.1,0.53),(33.7,0.67),(35,0.63),(36.3,0.65),(37.3,0.65),(39.1,0.68),(40.1,0.62),(41,0.55),(43,0.35),(45,0.2),(48,0.15),(50,0.3),(53,0.22),(56,0.25),(60,0.2),(63,0.3),(66,0.25),(70,0.3),(74,0.4),(78,0.35),(82,0.5),(86,0.8),(90,1.1),(94,1.3),(98,1.5),(102,1.7),(106,1.8),(110,1.7),(114,1.6),(118,1.4),(122,1.1),(126,0.8),(130,0.5),(134,0.3),(138,0.17),(141,0.12)]

# ---------------- drawing ----------------
W, H = 1319, 1457
fig = plt.figure(figsize=(W / 100, H / 100), dpi=100)
STAR = (8, 2, 0)


def px_rect(x0, y0, x1, y1):
    return [x0 / W, 1 - y1 / H, (x1 - x0) / W, (y1 - y0) / H]


def panel(rect, series, ymax, yt, yl, tag, tag_xy):
    ax = fig.add_axes(px_rect(*rect))
    for line, stars, col in series:
        f, e = zip(*line)
        ax.plot(f, e, color=col, lw=1.5, zorder=3)
        sf, se = zip(*stars)
        ax.plot(sf, se, ls='none', marker=STAR, ms=6.5, mew=1.1, color=col, zorder=3)
    ax.set_xscale('log')
    ax.set_yscale('log')
    ax.set_xlim(10, 200)
    ax.set_ylim(0.1, ymax)
    ax.set_xticks(x_ticks)
    ax.set_xticklabels([str(t) for t in x_ticks])
    ax.set_yticks(yt)
    ax.set_yticklabels(yl)
    ax.minorticks_off()
    ax.grid(True, which='major', ls=(0, (1, 1.5)), color='0.35', lw=0.8)
    ax.tick_params(direction='in', top=True, right=True, length=4.5, width=0.8,
                   color='0.25', labelsize=15, pad=4)
    for s in ax.spines.values():
        s.set_color('0.25')
        s.set_linewidth(1.0)
    ax.set_xlabel('Frequency (Hz)', fontsize=15)
    ax.xaxis.set_label_coords(0.5, -0.056)
    ax.set_ylabel('Energy per cycle (nJ)', fontsize=15)
    ax.yaxis.set_label_coords(-0.064, 0.5)
    fig.text(tag_xy[0] / W, 1 - tag_xy[1] / H, tag, fontsize=15, ha='left', va='center')
    return ax


def legend_box(x0, y0, x1, y1, xdiv, labels, colors):
    lax = fig.add_axes(px_rect(x0, y0, x1, y1))
    lax.set_xlim(x0, x1)
    lax.set_ylim(y1, y0)
    lax.set_xticks([])
    lax.set_yticks([])
    lax.set_facecolor('white')
    for s in lax.spines.values():
        s.set_color('0.6')
        s.set_linewidth(0.9)
    rh = (y1 - y0) / len(labels)
    cw = x1 - xdiv
    lax.plot([xdiv, xdiv], [y0, y1], color='0.6', lw=0.9)
    for i, (lab, col) in enumerate(zip(labels, colors)):
        yc = y0 + rh * (i + 0.5)
        lax.text(x0 + 5, yc + 1, lab, fontsize=15, ha='left', va='center')
        lax.plot([xdiv + 0.17 * cw, xdiv + 0.76 * cw], [yc, yc], color=col, lw=1.6)
        lax.plot([xdiv + 0.465 * cw], [yc], marker=STAR, ms=7, mew=1.1, color=col)
        if i > 0:
            lax.plot([xdiv, x1], [y0 + rh * i] * 2, color='0.6', lw=0.9)


def pull_in(ax, text_xy, tail, tip):
    ax.text(text_xy[0], text_xy[1], 'pull-in', fontsize=15, ha='left', va='center', zorder=5)
    ax.annotate('', xy=tip, xytext=tail,
                arrowprops=dict(arrowstyle='-|>', color='black', lw=1.0,
                                mutation_scale=12, shrinkA=0, shrinkB=0), zorder=5)


# (a)
panel((66.7, 20.7, 608, 437),
      [(a_blue_line, a_blue_stars, BLUE), (a_pink_line, a_pink_stars, PINK), (a_red_line, a_red_stars, RED)],
      100, y_ticks, y_labels, '(a)', (8, 16))
legend_box(410.7, 29.3, 599.3, 114.3, 507.7, a_labels, [BLUE, PINK, RED])

# (b)
axb = panel((747.7, 20.7, 1290.7, 437),
            [(b_green_line, b_green_stars, GREEN), (b_cyan_line, b_cyan_stars, CYAN),
             (b_blue_line, b_blue_stars, BLUE), (b_pink_line, b_pink_stars, PINK),
             (b_red_line, b_red_stars, RED)],
            100, y_ticks, y_labels, '(b)', (688, 16))
legend_box(1095.7, 27.7, 1284.3, 170, 1192.3, b_labels, [GREEN, CYAN, BLUE, PINK, RED])
pull_in(axb, (11.3, 1.65), (11.7, 1.31), (10.7, 0.9))

# (c)
axc = panel((66.7, 502.7, 608, 922),
            [(c_green_line, c_green_stars, GREEN), (c_blue_line, c_blue_stars, BLUE),
             (c_pink_line, c_pink_stars, PINK), (c_red_line, c_red_stars, RED)],
            100, y_ticks, y_labels, '(c)', (8, 504))
legend_box(418, 508, 607, 622, 517, c_labels, [GREEN, BLUE, PINK, RED])
pull_in(axc, (14.6, 0.311), (20.2, 0.287), (28.6, 0.213))

# (d)
axd = panel((747.7, 502.7, 1290.7, 922),
            [(d_green_line, d_green_stars, GREEN), (d_blue_line, d_blue_stars, BLUE),
             (d_pink_line, d_pink_stars, PINK), (d_red_line, d_red_stars, RED)],
            100, y_ticks, y_labels, '(d)', (688, 504))
legend_box(1077, 508, 1289, 622, 1198, d_labels, [GREEN, BLUE, PINK, RED])
pull_in(axd, (11.6, 1.33), (11.8, 1.09), (10.35, 0.84))

# (e)
panel((66.7, 984, 608, 1410.5),
      [(e_blue_line, e_blue_stars, BLUE), (e_pink_line, e_pink_stars, PINK), (e_red_line, e_red_stars, RED)],
      200, y_ticks_e, y_labels_e, '(e)', (8, 996))
legend_box(410.7, 992.7, 599.3, 1077.3, 507.7, e_labels, [BLUE, PINK, RED])

# (f)
axf = panel((747.7, 990, 1290.7, 1411),
            [(f_blue_line, f_blue_stars, BLUE), (f_pink_line, f_pink_stars, PINK), (f_red_line, f_red_stars, RED)],
            100, y_ticks, y_labels, '(f)', (688, 993))
legend_box(1100, 997, 1288, 1083, 1192, f_labels, [BLUE, PINK, RED])
pull_in(axf, (20.5, 1.48), (27.4, 1.25), (44.4, 0.83))

fig.savefig('out.png', dpi=100)
